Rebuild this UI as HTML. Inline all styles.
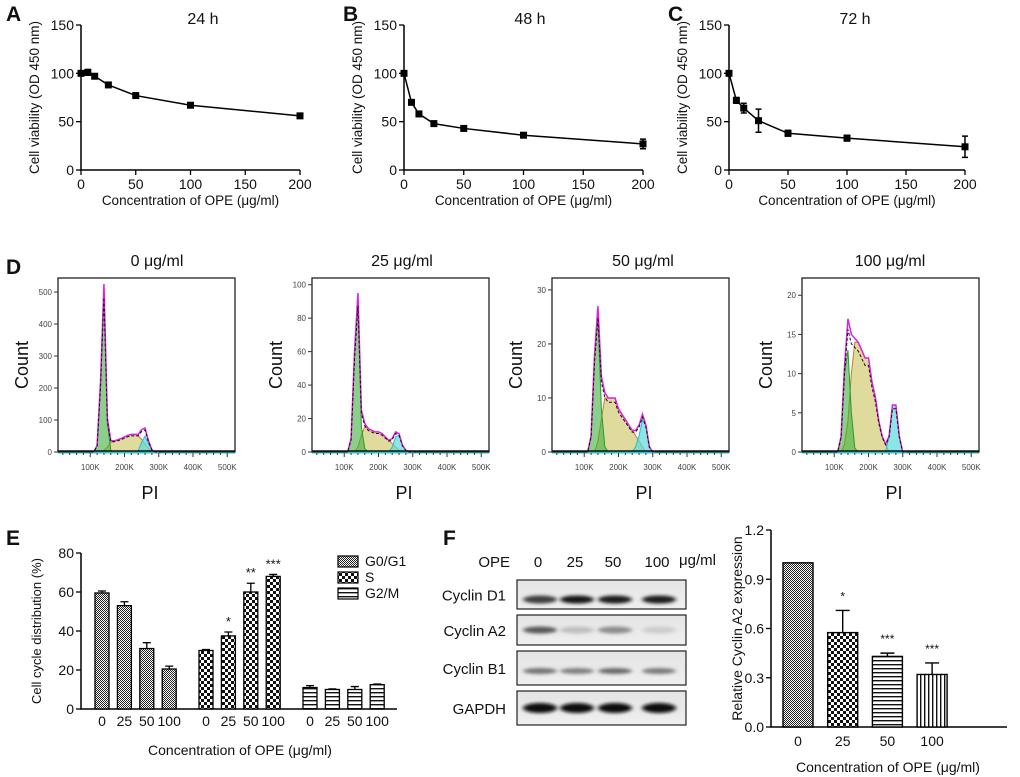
<!DOCTYPE html>
<html><head><meta charset="utf-8">
<style>
html,body{margin:0;padding:0;background:#fff;}
svg{display:block;font-family:"Liberation Sans",Arial,sans-serif;}
</style></head>
<body>
<svg id="fig" width="1020" height="777" viewBox="0 0 1020 777" xmlns="http://www.w3.org/2000/svg">
<defs>
<pattern id="pG1" width="2" height="2" patternUnits="userSpaceOnUse"><rect width="2" height="2" fill="#fff"/><rect width="1" height="1" fill="#222"/><rect x="1" y="1" width="1" height="1" fill="#222"/></pattern>
<pattern id="pS" width="6" height="6" patternUnits="userSpaceOnUse"><rect width="6" height="6" fill="#fff"/><rect width="3" height="3" fill="#111"/><rect x="3" y="3" width="3" height="3" fill="#111"/></pattern>
<pattern id="pH" width="4" height="4" patternUnits="userSpaceOnUse"><rect width="4" height="4" fill="#fff"/><rect y="0" width="4" height="1.4" fill="#111"/></pattern>
<pattern id="pV" width="4" height="4" patternUnits="userSpaceOnUse"><rect width="4" height="4" fill="#fff"/><rect x="0" width="1.4" height="4" fill="#111"/></pattern>
<filter id="blur" x="-20%" y="-100%" width="140%" height="300%"><feGaussianBlur stdDeviation="2.2 1.6"/></filter>
<linearGradient id="blotbg" x1="0" y1="0" x2="0" y2="1"><stop offset="0" stop-color="#e4e4e4"/><stop offset="1" stop-color="#efefef"/></linearGradient>
</defs>
</svg>
<script>
// ---------- data: panels A-C ----------
const conc=[0,6.25,12.5,25,50,100,200];
const via24=[100,101,97,88,77,67,56];
const err24=[1,3,2,1.5,1.5,2,1.5];
const via48=[100,70,58,48,43,36,27];
const err48=[1,2,2,1.5,1.5,1.5,5];
const via72=[100,72,64,51,38,33,24];
const err72=[1,3,5,12,3,3,11];
const viaYTicks=[0,50,100,150];
const viaXTicks=[0,50,100,150,200];
// ---------- data: panel D histograms (PI 100K..310K step 10K) ----------
const histK=[100,110,120,130,140,150,160,170,180,190,200,210,220,230,240,250,260,270,280,290,300,310];
const h0_g1=[0,0,20,220,520,90,5,0,0,0,0,0,0,0,0,0,0,0,0,0,0,0];
const h0_s=[0,0,0,0,5,15,30,35,38,42,47,52,55,55,50,40,25,10,2,0,0,0];
const h0_g2=[0,0,0,0,0,0,0,0,0,0,0,0,0,0,5,30,50,25,5,0,0,0];
const h25_g1=[0,0,8,60,92,15,2,0,0,0,0,0,0,0,0,0,0,0,0,0,0,0];
const h25_s=[0,0,0,0,3,10,15,14,13,12,12,11,9,7,5,3,1,0,0,0,0,0];
const h25_g2=[0,0,0,0,0,0,0,0,0,0,0,0,0,0,3,9,10,4,1,0,0,0];
const h50_g1=[0,0,3,18,25,8,1,0,0,0,0,0,0,0,0,0,0,0,0,0,0,0];
const h50_s=[0,0,0,0,2,6,10,10,10,10,8,7,6,5,4,3,2,1,0,0,0,0];
const h50_g2=[0,0,0,0,0,0,0,0,0,0,0,0,0,0,0,1,3,6,5,1,0,0];
const h100_g1=[0,0,2,10,13,5,0.5,0,0,0,0,0,0,0,0,0,0,0,0,0,0,0];
const h100_s=[0,0,0,1,4,10,14,14,13,12,12,9,7,4,2,1,0,0,0,0,0,0];
const h100_g2=[0,0,0,0,0,0,0,0,0,0,0,0,0,0,0,0,2,6,6,2,0,0];
const histXTicks=[100,200,300,400,500];
const histXLabels=['100K','200K','300K','400K','500K'];
const hYTicks0=[0,100,200,300,400,500];
const hYTicks25=[0,20,40,60,80,100];
const hYTicks50=[0,10,20,30];
const hYTicks100=[0,5,10,15,20];
const histTitles=['0 μg/ml','25 μg/ml','50 μg/ml','100 μg/ml'];
// ---------- data: panel E ----------
const phaseNames=['G0/G1','S','G2/M'];
const doseLabels=['0','25','50','100'];
const g1Vals=[59.5,53,31,20.5];
const g1Err=[1,2,3,1.5];
const sVals=[30,37.5,60,68];
const sErr=[0.5,2,4.5,1];
const g2Vals=[11,10,10,12.5];
const g2Err=[1,0.3,1.5,0.3];
const sStars=['','*','**','***'];
const eYTicks=[0,20,40,60,80];
// ---------- data: panel F ----------
const blotRows=['Cyclin D1','Cyclin A2','Cyclin B1','GAPDH'];
const blotLanes=['0','25','50','100'];
const bandD1=[0.75,0.9,0.88,0.88];
const bandA2=[0.65,0.25,0.45,0.2];
const bandB1=[0.55,0.5,0.58,0.52];
const bandGAPDH=[0.97,0.95,0.95,0.97];
const relVals=[1,0.575,0.43,0.32];
const relErr=[0,0.135,0.02,0.07];
const relStars=['','*','***','***'];
const fYTicks=[0,0.3,0.6,0.9,1.2];
const fYLabels=['0.0','0.3','0.6','0.9','1.2'];

const NS='http://www.w3.org/2000/svg';
const svg=document.getElementById('fig');
function mk(tag,attrs,parent){const e=document.createElementNS(NS,tag);for(const k in attrs)e.setAttribute(k,attrs[k]);(parent||svg).appendChild(e);return e;}
function tx(x,y,s,size,anchor,parent,extra){const t=mk('text',Object.assign({x:x,y:y,'font-size':size,'text-anchor':anchor||'middle',fill:'#111'},extra||{}),parent);t.textContent=s;return t;}

// ---------- A-C ----------
function viaPanel(letter,lx,title,tx0,x0,x1,vals,errs,name){
  const g=mk('g',{});
  
  
  const yT=25,yB=170;
  const X=v=>x0+(v/200)*(x1-x0), Y=v=>yB-(v/150)*(yB-yT);
  const L=tx(lx,21,letter,21,'start',g,{'font-weight':'bold'});
  
  
  const T=tx(tx0,24,title,16,'middle',g);
  
  
  const ax=mk('path',{d:`M${x0},${yT} V${yB} H${x1}`,stroke:'#000','stroke-width':1.5,fill:'none'},g);
  
  
  viaYTicks.forEach(v=>{mk('line',{x1:x0-5,x2:x0,y1:Y(v),y2:Y(v),stroke:'#000','stroke-width':1.3},g);
    const t=tx(x0-7,Y(v)+5,String(v),14,'end',g);
    
    });
  viaXTicks.forEach(v=>{mk('line',{x1:X(v),x2:X(v),y1:yB,y2:yB+5,stroke:'#000','stroke-width':1.3},g);
    const t=tx(X(v),yB+19,String(v),14,'middle',g);
    
    });
  const xt=tx((x0+x1)/2,205,'Concentration of OPE (μg/ml)',13.5,'middle',g);
  
  
  const yt=tx(0,0,'Cell viability (OD 450 nm)',13.5,'middle',g,{transform:`translate(${x0-42},${(yT+yB)/2}) rotate(-90)`});
  
  
  const line=mk('polyline',{points:conc.map((c,i)=>X(c)+','+Y(vals[i])).join(' '),fill:'none',stroke:'#000','stroke-width':1.5},g);
  
  
  conc.forEach((c,i)=>{
    const e=mk('path',{d:`M${X(c)},${Y(vals[i]+errs[i])} V${Y(vals[i]-errs[i])} M${X(c)-3},${Y(vals[i]+errs[i])} h6 M${X(c)-3},${Y(vals[i]-errs[i])} h6`,stroke:'#000','stroke-width':1.5,fill:'none'},g);
    
    
    const p=mk('rect',{x:X(c)-3.5,y:Y(vals[i])-3.5,width:7,height:7,fill:'#000'},g);
    
    
  });
}
viaPanel('A',6,'24 h',203,81,300,via24,err24,'panel-a-24h');
viaPanel('B',343,'48 h',530,404,643,via48,err48,'panel-b-48h');
viaPanel('C',668,'72 h',855,729,965,via72,err72,'panel-c-72h');

// ---------- D ----------
const histPanels=[
 {left:58,max:544,g1:h0_g1,s:h0_s,g2:h0_g2,ticks:hYTicks0,tx:157},
 {left:312,max:104,g1:h25_g1,s:h25_s,g2:h25_g2,ticks:hYTicks25,tx:402},
 {left:552,max:32.2,g1:h50_g1,s:h50_s,g2:h50_g2,ticks:hYTicks50,tx:643},
 {left:802,max:22.2,g1:h100_g1,s:h100_s,g2:h100_g2,ticks:hYTicks100,tx:890}];
const dl=tx(6,274,'D',21,'start',null,{'font-weight':'bold'});


histPanels.forEach((P,pi)=>{
  const g=mk('g',{});
  
  
  const top=278,bot=452,right=P.left+177;
  const X=k=>P.left-2+k*0.3425, Y=v=>bot-(v/P.max)*(bot-top);
  const tt=tx(P.tx,266,histTitles[pi],16,'middle',g);
  
  
  const fr=mk('rect',{x:P.left,y:top,width:right-P.left,height:bot-top,fill:'#fff',stroke:'#222','stroke-width':1.3},g);
  
  
  function area(arr,fill,stroke,nm){
    const pts=histK.map((k,i)=>X(k)+','+Y(arr[i]));
    const a=mk('polygon',{points:X(histK[0])+','+bot+' '+pts.join(' ')+' '+X(histK[histK.length-1])+','+bot,fill:fill,stroke:stroke,'stroke-width':1},g);
    
    
  }
  area(P.s,'rgba(200,195,90,0.6)','#c87a30','s-phase-fill');
  area(P.g1,'rgba(60,175,60,0.6)','#2a9a2a','g1-phase-fill');
  area(P.g2,'rgba(90,220,220,0.7)','#30b8d0','g2-phase-fill');
  const tot=histK.map((k,i)=>X(k)+','+Y(P.g1[i]+P.s[i]+P.g2[i])).join(' ');
  const tl=mk('polyline',{points:tot,fill:'none',stroke:'#e020e0','stroke-width':1.5},g);
  
  
  const fit=mk('polyline',{points:histK.map((k,i)=>X(k)+','+Y((P.g1[i]+P.s[i]+P.g2[i])*0.92)).join(' '),fill:'none',stroke:'#111','stroke-width':1,'stroke-dasharray':'3,2'},g);
  
  
  mk('line',{x1:P.left,x2:right,y1:bot-1,y2:bot-1,stroke:'#111','stroke-width':1.6},g);
  mk('line',{x1:P.left,x2:right,y1:bot+1,y2:bot+1,stroke:'#2cc','stroke-width':1},g);
  for(let k=20;k<=500;k+=20){const big=k%100===0;mk('line',{x1:X(k),x2:X(k),y1:bot+1,y2:bot+(big?5:3),stroke:'#333','stroke-width':1},g);}
  histXTicks.forEach((k,i)=>{const t=tx(X(k),470,histXLabels[i],8,'middle',g,{fill:'#444'});
    
    });
  P.ticks.forEach(v=>{mk('line',{x1:P.left-4,x2:P.left,y1:Y(v),y2:Y(v),stroke:'#333','stroke-width':1},g);
    const t=tx(P.left-6,Y(v)+3,String(v),8,'end',g,{fill:'#444'});
    
    });
  const cl=tx(0,0,'Count',18,'middle',g,{transform:`translate(${P.left-30},${(top+bot)/2}) rotate(-90)`});
  
  
  const pl=tx(P.left+92,499,'PI',18,'middle',g);
  
  
});

// ---------- E ----------
(function(){
  const g=mk('g',{});
  
  
  const x0=81,x1=397,yT=553,yB=709;
  const Y=v=>yB-(v/80)*(yB-yT);
  const XC=(gi,i)=>102+gi*104+i*22.4;
  const L=tx(6,545,'E',21,'start',g,{'font-weight':'bold'});
  
  
  const ax=mk('path',{d:`M${x0},${yT} V${yB} H${x1}`,stroke:'#000','stroke-width':1.5,fill:'none'},g);
  
  
  eYTicks.forEach(v=>{mk('line',{x1:x0-5,x2:x0,y1:Y(v),y2:Y(v),stroke:'#000','stroke-width':1.3},g);
    const t=tx(x0-7,Y(v)+5,String(v),14,'end',g);
    
    });
  const yt=tx(0,0,'Cell cycle distribution (%)',13,'middle',g,{transform:`translate(${x0-40},${(yT+yB)/2}) rotate(-90)`});
  
  
  const xt=tx(240,755,'Concentration of OPE (μg/ml)',14,'middle',g);
  
  
  const groups=[[g1Vals,g1Err,'url(#pG1)'],[sVals,sErr,'url(#pS)'],[g2Vals,g2Err,'url(#pH)']];
  groups.forEach((G,gi)=>{
    G[0].forEach((v,i)=>{
      const cx=XC(gi,i);
      const e=mk('path',{d:`M${cx},${Y(v)} V${Y(v+G[1][i])} M${cx-4},${Y(v+G[1][i])} h8`,stroke:'#000','stroke-width':1.3,fill:'none'},g);
      
      
      const b=mk('rect',{x:cx-7,y:Y(v),width:14,height:yB-Y(v),fill:G[2],stroke:'#000','stroke-width':1.3},g);
      
      
      const t=tx(cx,726,doseLabels[i],14,'middle',g);
      
      
      if(gi===1&&sStars[i]){const s=tx(cx,Y(v+sErr[i])-6,sStars[i],13,'middle',g);
        
        }
    });
  });
  ['url(#pG1)','url(#pS)','url(#pH)'].forEach((f,i)=>{
    const r=mk('rect',{x:338,y:556+i*16,width:20,height:11,fill:f,stroke:'#000','stroke-width':1.2},g);
    
    
    const t=tx(365,566+i*16,phaseNames[i],14,'start',g);
    
    
  });
})();

// ---------- F blot ----------
(function(){
  const g=mk('g',{});
  
  
  const L=tx(443,545,'F',21,'start',g,{'font-weight':'bold'});
  
  
  const laneX=[538,575,613,657];
  const o=tx(510,567,'OPE',15,'end',g);
  
  
  blotLanes.forEach((s,i)=>{const t=tx(laneX[i],567,s,15,'middle',g);
    
    });
  const u=tx(679,565,'μg/ml',15,'start',g);
  
  
  const rowsY=[[580,609],[615,645],[651,685],[691,725]];
  const bands=[bandD1,bandA2,bandB1,bandGAPDH];
  const bandH=[6,5,4,8];
  const bandOff=[5,0,3,0];
  rowsY.forEach((r,ri)=>{
    const lb=tx(506,(r[0]+r[1])/2+6,blotRows[ri],15,'end',g);
    
    
    const box=mk('rect',{x:517,y:r[0],width:169,height:r[1]-r[0],fill:'url(#blotbg)',stroke:'#222','stroke-width':1.2},g);
    
    
    bands[ri].forEach((v,i)=>{
      const c=Math.round(255*(1-v));
      const b=mk('ellipse',{cx:laneX[i]+2,cy:(r[0]+r[1])/2+bandOff[ri],rx:17,ry:bandH[ri]/2+1,fill:`rgb(${c},${c},${c})`,filter:'url(#blur)'},g);
      
      
    });
  });
})();

// ---------- F bar chart ----------
(function(){
  const g=mk('g',{});
  
  
  const x0=771,x1=1007,yT=530,yB=727;
  const Y=v=>yB-(v/1.2)*(yB-yT);
  const fills=['url(#pG1)','url(#pS)','url(#pH)','url(#pV)'];
  const ax=mk('path',{d:`M${x0},${yT} V${yB} H${x1}`,stroke:'#000','stroke-width':1.5,fill:'none'},g);
  
  
  fYTicks.forEach((v,i)=>{mk('line',{x1:x0-5,x2:x0,y1:Y(v),y2:Y(v),stroke:'#000','stroke-width':1.3},g);
    const t=tx(x0-7,Y(v)+5,fYLabels[i],14,'end',g);
    
    });
  const yt=tx(0,0,'Relative Cyclin A2 expression',14,'middle',g,{transform:`translate(${x0-29},${(yT+yB)/2}) rotate(-90)`});
  
  
  const xt=tx(888,772,'Concentration of OPE (μg/ml)',14,'middle',g);
  
  
  relVals.forEach((v,i)=>{
    const cx=798+i*44.7;
    if(relErr[i]>0){const e=mk('path',{d:`M${cx},${Y(v)} V${Y(v+relErr[i])} M${cx-7},${Y(v+relErr[i])} h14`,stroke:'#000','stroke-width':1.4,fill:'none'},g);
      
      }
    const b=mk('rect',{x:cx-15,y:Y(v),width:30,height:yB-Y(v),fill:fills[i],stroke:'#000','stroke-width':1.4},g);
    
    
    const t=tx(cx,746,doseLabels[i],14,'middle',g);
    
    
    if(relStars[i]){const s=tx(cx,Y(v+relErr[i])-10,relStars[i],12,'middle',g);
      
      }
  });
})();
</script>
</body></html>
